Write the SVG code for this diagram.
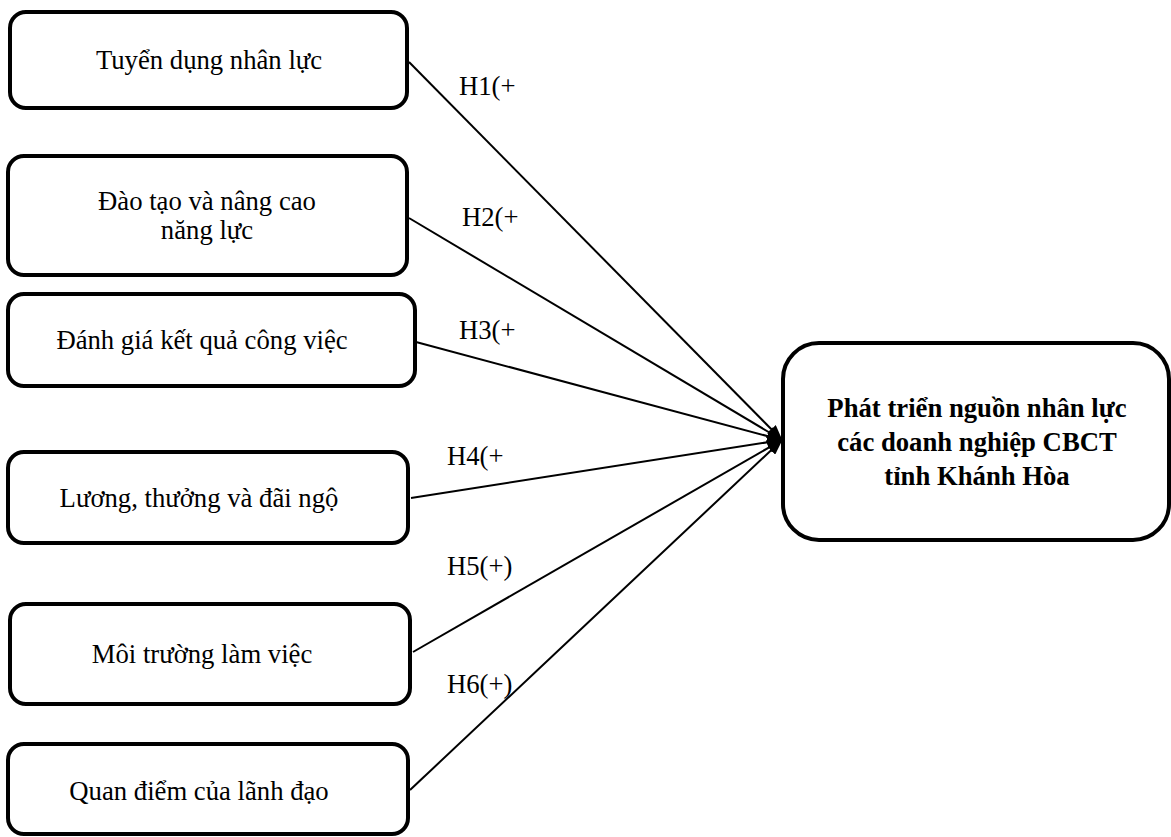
<svg xmlns="http://www.w3.org/2000/svg" width="1171" height="837" viewBox="0 0 1171 837">
<style>
.box{fill:#fff;stroke:#000;stroke-width:4}
.t{font-family:"Liberation Serif","Times New Roman",serif;font-size:26.7px;fill:#000;text-anchor:middle}
.b{font-weight:bold}
.lbl{font-family:"Liberation Serif","Times New Roman",serif;font-size:26.7px;fill:#000}
.edge{stroke:#000;stroke-width:2;fill:none;marker-end:url(#ah)}
</style>
<defs>
<marker id="ah" markerWidth="16" markerHeight="12" refX="15" refY="6" orient="auto" markerUnits="userSpaceOnUse">
<path d="M0,0 L16,6 L0,12 z" fill="#000"/>
</marker>
</defs>
<rect width="1171" height="837" fill="#fff"/>
<g id="connectors">
<line class="edge" x1="409" y1="62" x2="782" y2="440"/>
<line class="edge" x1="409" y1="218" x2="782" y2="440"/>
<line class="edge" x1="416" y1="342" x2="782" y2="440"/>
<line class="edge" x1="411" y1="498" x2="782" y2="440"/>
<line class="edge" x1="413" y1="652" x2="782" y2="440"/>
<line class="edge" x1="410" y1="790" x2="782" y2="440"/>
<text class="lbl" x="459" y="95">H1(+</text>
<text class="lbl" x="462" y="226">H2(+</text>
<text class="lbl" x="459" y="339">H3(+</text>
<text class="lbl" x="447" y="465">H4(+</text>
<text class="lbl" x="447" y="575">H5(+)</text>
<text class="lbl" x="447" y="693">H6(+)</text>
</g>
<g id="n1"><rect class="box" x="10" y="12" width="397" height="96" rx="16"/><text class="t" x="209" y="69">Tuyển dụng nhân lực</text></g>
<g id="n2"><rect class="box" x="8" y="156" width="399" height="119" rx="16"/><text class="t" x="207" y="210">Đào tạo và nâng cao</text><text class="t" x="207" y="239">năng lực</text></g>
<g id="n3"><rect class="box" x="8" y="294" width="407" height="92" rx="16"/><text class="t" x="202" y="349">Đánh giá kết quả công việc</text></g>
<g id="n4"><rect class="box" x="8" y="452" width="400" height="91" rx="16"/><text class="t" x="199" y="507">Lương, thưởng và đãi ngộ</text></g>
<g id="n5"><rect class="box" x="10" y="604" width="400" height="100" rx="16"/><text class="t" x="202" y="663">Môi trường làm việc</text></g>
<g id="n6"><rect class="box" x="8" y="744" width="400" height="90" rx="16"/><text class="t" x="199" y="800">Quan điểm của lãnh đạo</text></g>
<g id="target"><rect class="box" x="783" y="343" width="386" height="197" rx="36"/><text class="t b" x="977" y="417">Phát triển nguồn nhân lực</text><text class="t b" x="977" y="451">các doanh nghiệp CBCT</text><text class="t b" x="977" y="485">tỉnh Khánh Hòa</text></g>
</svg>
